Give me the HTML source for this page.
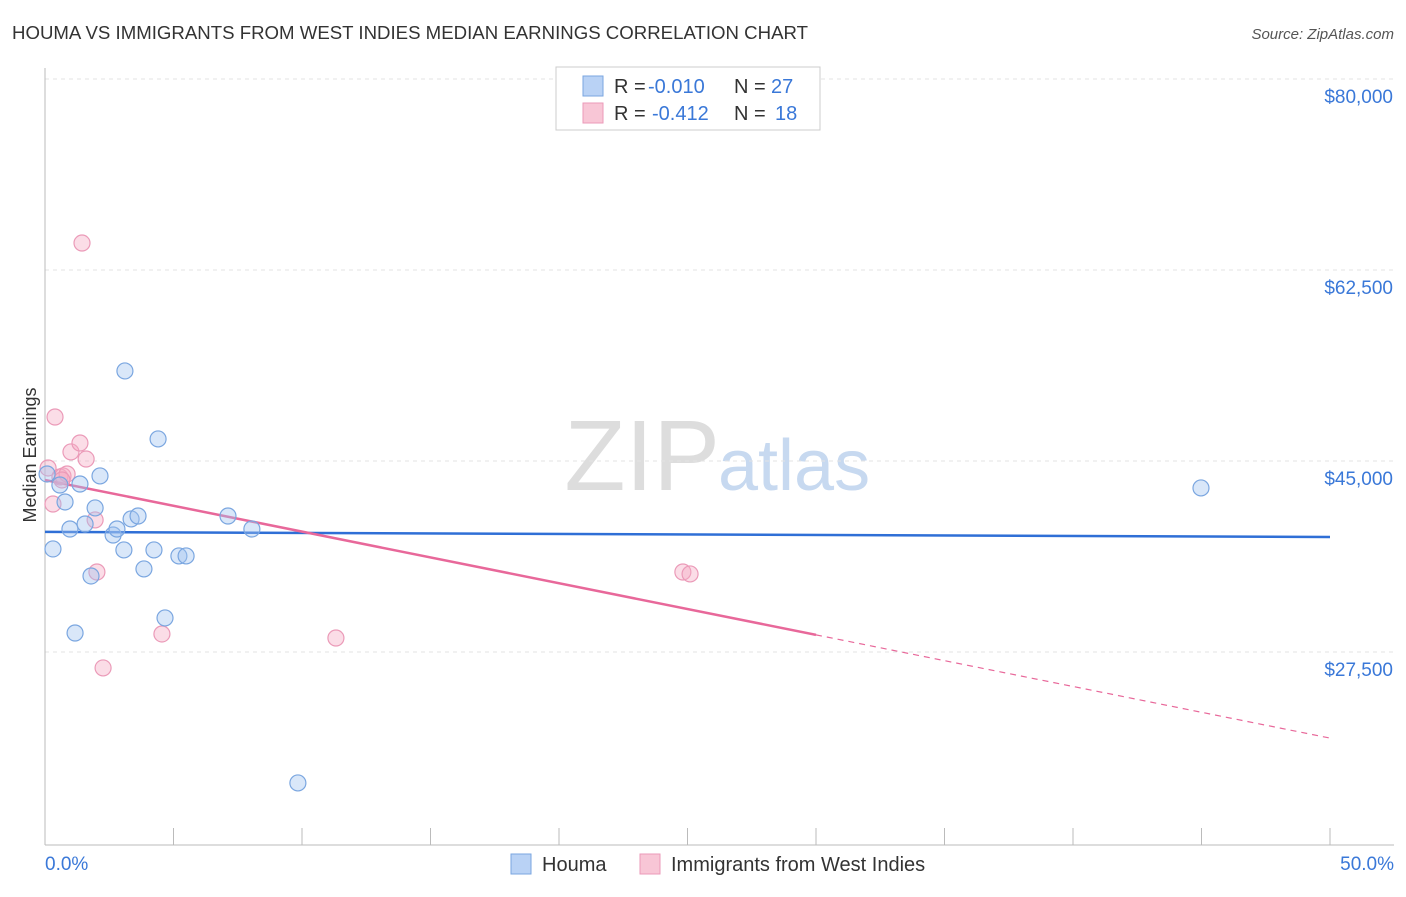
<!DOCTYPE html>
<html><head><meta charset="utf-8"><style>
body{margin:0;background:#fff;font-family:"Liberation Sans",sans-serif;}
svg text{font-family:"Liberation Sans",sans-serif;}
</style></head><body>
<svg id="c" width="1406" height="892" xmlns="http://www.w3.org/2000/svg">
<text x="12" y="39" font-size="18.6" fill="#333" textLength="796" lengthAdjust="spacingAndGlyphs">HOUMA VS IMMIGRANTS FROM WEST INDIES MEDIAN EARNINGS CORRELATION CHART</text>
<text x="1394" y="39" font-size="15" fill="#555" font-style="italic" text-anchor="end">Source: ZipAtlas.com</text>
<text x="720" y="490" font-size="100" fill="#ddd" text-anchor="end" font-family="Liberation Serif">ZIP</text>
<text x="718" y="490" font-size="72" fill="#c7d9f0">atlas</text>
<text x="36" y="455" font-size="18" fill="#333" text-anchor="middle" transform="rotate(-90 36 455)">Median Earnings</text>
<g id="grid"></g><g id="trend"></g><g id="pts"></g>
<g>
<rect x="556" y="67" width="264" height="63" fill="#fff" stroke="#ccc"/>
<rect x="583" y="76" width="20" height="20" fill="#b9d2f5" stroke="#7aa6e0"/>
<text x="614" y="93" font-size="20" fill="#333">R =</text>
<text x="648" y="93" font-size="20" fill="#3a78d8">-0.010</text>
<text x="734" y="93" font-size="20" fill="#333">N =</text>
<text x="771" y="93" font-size="20" fill="#3a78d8">27</text>
<rect x="583" y="103" width="20" height="20" fill="#f8c6d6" stroke="#eb9ab8"/>
<text x="614" y="120" font-size="20" fill="#333">R =</text>
<text x="652" y="120" font-size="20" fill="#3a78d8">-0.412</text>
<text x="734" y="120" font-size="20" fill="#333">N =</text>
<text x="775" y="120" font-size="20" fill="#3a78d8">18</text>
</g>
<g>
<rect x="511" y="854" width="20" height="20" fill="#b9d2f5" stroke="#7aa6e0"/>
<text x="542" y="871" font-size="20" fill="#333">Houma</text>
<rect x="640" y="854" width="20" height="20" fill="#f8c6d6" stroke="#eb9ab8"/>
<text x="671" y="871" font-size="20" fill="#333">Immigrants from West Indies</text>
</g>
<text x="45" y="870" font-size="19" fill="#3a78d8">0.0%</text>
<text x="1394" y="870" font-size="19" fill="#3a78d8" text-anchor="end">50.0%</text>
</svg>
<script>
const yTicks=[80000,62500,45000,27500];
const yTickLabels=["$80,000","$62,500","$45,000","$27,500"];
const xTicks=[0,5,10,15,20,25,30,35,40,45,50];
const houmaX=[0.08,0.31,0.58,0.78,0.97,1.17,1.36,1.56,1.79,1.95,2.14,2.65,2.80,3.07,3.11,3.35,3.62,3.85,4.24,4.40,4.67,5.21,5.49,7.12,8.05,9.84,44.98];
const houmaY=[43810,36940,42800,41245,38770,29240,42890,39230,34465,40700,43630,38220,38770,36850,53250,39690,39960,35110,36850,47020,30620,36300,36300,39960,38770,15500,42530];
const wiX=[0.12,0.31,0.39,0.58,0.70,0.86,1.01,1.36,1.44,1.60,1.95,2.02,2.26,4.55,11.32,24.82,25.10,0.66];
const wiY=[44360,41060,49030,43540,43630,43810,45830,46650,64970,45180,39600,34830,26040,29150,28780,34830,34650,43260];
const houmaTrend=[38500,38040];
const wiTrend=[43260,19610];
const wiSolidEnd=30;
const NS="http://www.w3.org/2000/svg";
const X=p=>45+p*25.7;
const Y=v=>79+(80000-v)*0.010914;
function mk(tag,attrs,parent){const e=document.createElementNS(NS,tag);for(const k in attrs)e.setAttribute(k,attrs[k]);document.getElementById(parent).appendChild(e);return e;}
yTicks.forEach((t,i)=>{
 const l=mk('line',{x1:45,x2:1394,y1:Y(t),y2:Y(t),stroke:'#e3e3e3','stroke-dasharray':'4 4'},'grid');
 
 
 const tx=mk('text',{x:1393,y:Y(t)+24,'font-size':19,fill:'#3a78d8','text-anchor':'end'},'grid');
 tx.textContent=yTickLabels[i];
 
 
});
const ax=mk('line',{x1:45,x2:1394,y1:845,y2:845,stroke:'#bbb'},'grid');


const ay=mk('line',{x1:45,x2:45,y1:68,y2:845,stroke:'#bbb'},'grid');


xTicks.forEach(t=>{
 const l=mk('line',{x1:X(t),x2:X(t),y1:828,y2:845,stroke:'#bbb'},'grid');
 
 
});
const bt=mk('line',{x1:X(0),y1:Y(houmaTrend[0]),x2:X(50),y2:Y(houmaTrend[1]),stroke:'#2f6fd6','stroke-width':2.5},'trend');


const wAt=p=>wiTrend[0]+(wiTrend[1]-wiTrend[0])*p/50;
const pt=mk('line',{x1:X(0),y1:Y(wiTrend[0]),x2:X(wiSolidEnd),y2:Y(wAt(wiSolidEnd)),stroke:'#e8689a','stroke-width':2.5},'trend');


const pd=mk('line',{x1:X(wiSolidEnd),y1:Y(wAt(wiSolidEnd)),x2:X(50),y2:Y(wiTrend[1]),stroke:'#e8689a','stroke-width':1.2,'stroke-dasharray':'6 5'},'trend');


wiX.forEach((x,i)=>{
 const c=mk('circle',{cx:X(x),cy:Y(wiY[i]),r:8,fill:'rgba(244,170,196,0.4)',stroke:'#eb9ab8','stroke-width':1.2},'pts');
 
 
});
houmaX.forEach((x,i)=>{
 const c=mk('circle',{cx:X(x),cy:Y(houmaY[i]),r:8,fill:'rgba(160,194,240,0.4)',stroke:'#7aa6e0','stroke-width':1.2},'pts');
 
 
});
</script>
</body></html>
